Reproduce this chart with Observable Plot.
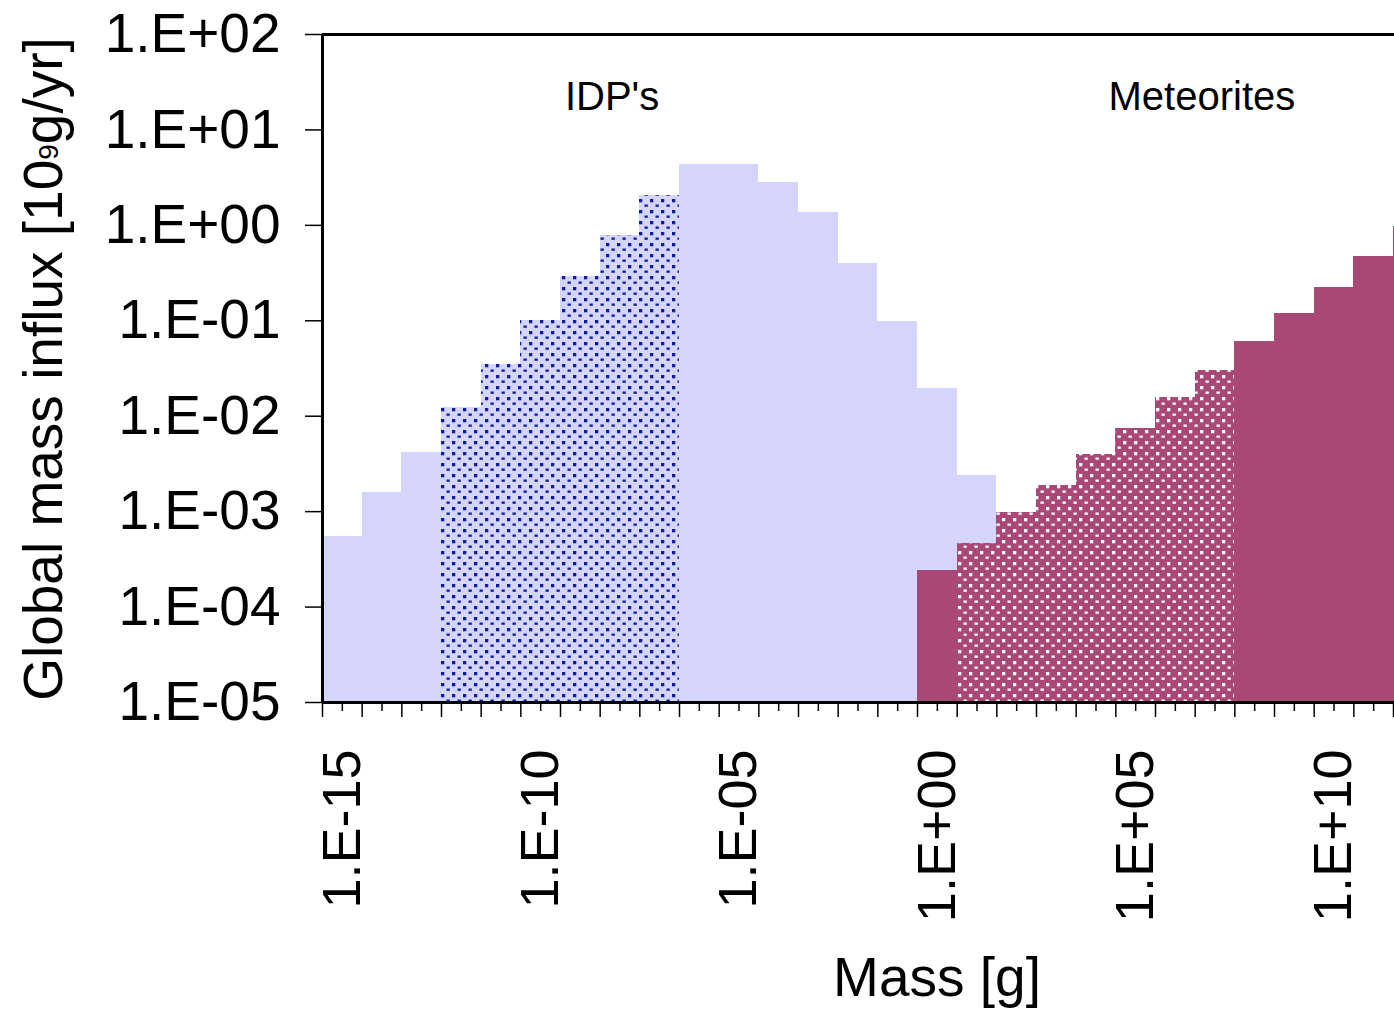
<!DOCTYPE html>
<html>
<head>
<meta charset="utf-8">
<script src="https://cdn.jsdelivr.net/npm/d3@7"></script>
<script src="https://cdn.jsdelivr.net/npm/@observablehq/plot@0.6"></script>
<style>
  html, body { margin: 0; padding: 0; background: #fff; overflow: hidden; }
  #chart svg { display: block; }
</style>
</head>
<body>
<div id="chart"></div>
<script>
// ---- data ----
// mass bins are decades of mass in grams: exponent of 10
const idpStartExp = -15;
const idpFlux = [5.5e-4, 1.58e-3, 4.17e-3, 1.23e-2, 3.48e-2, 0.100, 0.291, 0.783, 2.06, 4.34, 4.34, 2.81, 1.36, 0.398, 0.098, 0.0195, 0.00239];
const meteoriteStartExp = 0;
const meteoriteFlux = [2.41e-4, 4.63e-4, 9.8e-4, 1.88e-3, 3.97e-3, 7.43e-3, 1.57e-2, 3.01e-2, 6.07e-2, 0.119, 0.223, 0.472, 0.97];
const idpDottedExp = [-12, -11, -10, -9, -8, -7];
const meteoriteDottedExp = [1, 2, 3, 4, 5, 6, 7];
const xLabelExp = [-15, -10, -5, 0, 5, 10];
const yTickExp = [-5, -4, -3, -2, -1, 0, 1, 2];
const regionLabels = [
  {name: "IDP's", exp: -8.2, flux: 22},
  {name: "Meteorites", exp: 6.67, flux: 22}
];
const xTitle = "Mass [g]";
const yTitleParts = ["Global mass influx [10", "9", "g/yr]"];

// ---- derived tables ----
const idp = idpFlux.map((v, i) => ({exp: idpStartExp + i, flux: v}));
const met = meteoriteFlux.map((v, i) => ({exp: meteoriteStartExp + i, flux: v}));
const firstExp = idpStartExp;
const lastExp = meteoriteStartExp + meteoriteFlux.length - 2; // last fully visible bin
const majorTicks = d3.range(firstExp - 0.5, lastExp + 1, 1);
const minorTicks = d3.range(firstExp, lastExp + 1, 1);
const yTicks = yTickExp.map(e => 10 ** e);
const yFloor = yTicks[0];
const fmtExp = e => "1.E" + (e < 0 ? "-" : "+") + String(Math.abs(e)).padStart(2, "0");

// ---- style ----
const LAV = "#D5D5FB";
const BLUE = "#0C1E9B";
const MAG = "#A94877";
const FONT = "'Liberation Sans', Arial, sans-serif";

const bar = (extra) => ({
  x1: d => d.exp - 0.5,
  x2: d => d.exp + 0.5,
  y1: yFloor,
  y2: "flux",
  shapeRendering: "crispEdges",
  clip: true,
  ...extra
});

const chart = Plot.plot({
  width: 1394,
  height: 1013,
  marginLeft: 322,
  marginRight: 0,
  marginTop: 34,
  marginBottom: 311,
  style: {fontFamily: FONT, color: "#000", background: "#fff", overflow: "visible"},
  x: {type: "linear", domain: [firstExp - 0.5, lastExp + 0.525]},
  y: {type: "log", domain: [yTicks[0], yTicks[yTicks.length - 1]]},
  marks: [
    Plot.rectY(idp.filter(d => !idpDottedExp.includes(d.exp)), bar({fill: LAV})),
    Plot.rectY(idp.filter(d => idpDottedExp.includes(d.exp)), bar({fill: "url(#idpDots)"})),
    Plot.rectY(met.filter(d => !meteoriteDottedExp.includes(d.exp)), bar({fill: MAG})),
    Plot.rectY(met.filter(d => meteoriteDottedExp.includes(d.exp)), bar({fill: "url(#metDots)"})),
    Plot.axisY({ticks: yTicks, tickFormat: d => fmtExp(Math.round(Math.log10(d))), tickSize: 17, tickPadding: 25, fontSize: 55, strokeWidth: 1.5, label: null}),
    Plot.axisX({ticks: majorTicks, tickSize: 15, tickFormat: () => "", strokeWidth: 1.5, label: null}),
    Plot.axisX({ticks: minorTicks, tickSize: 9, tickFormat: () => "", strokeWidth: 1.5, label: null}),
    Plot.ruleY([yTicks[yTicks.length - 1]], {stroke: "#000", strokeWidth: 3}),
    Plot.ruleY([yFloor], {stroke: "#000", strokeWidth: 3}),
    Plot.ruleX([firstExp - 0.5], {stroke: "#000", strokeWidth: 3}),
    Plot.text(xLabelExp, {x: d => d, y: yFloor, text: d => fmtExp(d), rotate: -90, textAnchor: "end", lineAnchor: "middle", dy: 47, fontSize: 54, fill: "#000"}),
    Plot.text(regionLabels, {x: "exp", y: "flux", text: "name", fontSize: 40, lineAnchor: "middle", fill: "#000"})
  ]
});

document.getElementById("chart").appendChild(chart);
const svg = d3.select(chart);

// patterns
const defs = svg.insert("defs", ":first-child");
function dots(id, bg, fg) {
  const p = defs.append("pattern").attr("id", id)
    .attr("patternUnits", "userSpaceOnUse").attr("width", 11).attr("height", 11);
  p.append("rect").attr("width", 11).attr("height", 11).attr("fill", bg);
  p.append("rect").attr("x", 1).attr("y", 1).attr("width", 3.3).attr("height", 3.3).attr("fill", fg);
  p.append("rect").attr("x", 6.5).attr("y", 6.5).attr("width", 3.3).attr("height", 2.3).attr("fill", fg);
}
dots("idpDots", LAV, BLUE);
dots("metDots", MAG, "#FFFFFF");

// axis titles
svg.append("text")
  .attr("x", 937).attr("y", 996)
  .attr("text-anchor", "middle")
  .attr("font-family", FONT).attr("font-size", 55).attr("fill", "#000")
  .text(xTitle);

const yt = svg.append("text")
  .attr("transform", "translate(62,369) rotate(-90)")
  .attr("text-anchor", "middle")
  .attr("font-family", FONT).attr("font-size", 55).attr("fill", "#000");
yt.append("tspan").text(yTitleParts[0]);
yt.append("tspan").attr("font-size", 28).attr("dy", -4).text(yTitleParts[1]);
yt.append("tspan").attr("dy", 4).text(yTitleParts[2]);
</script>
</body>
</html>
